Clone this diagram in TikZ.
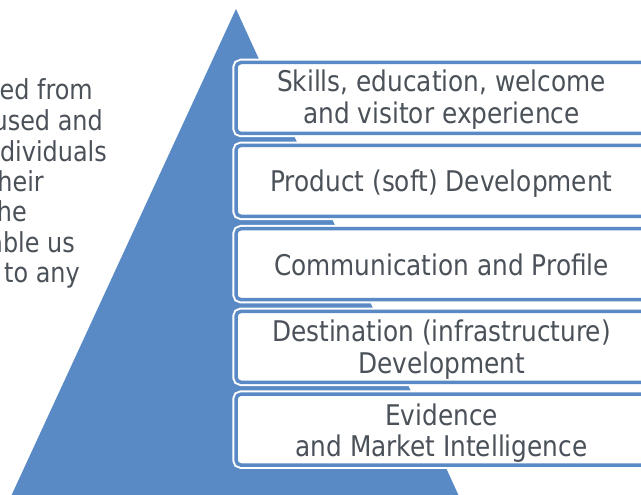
\documentclass[tikz,border=0pt]{standalone}
\usepackage{fontspec}
\setmainfont{DejaVu Sans}[FakeStretch=0.87]
\definecolor{pyr}{HTML}{5A8AC6}
\definecolor{txt}{HTML}{4B5159}
\begin{document}
\begin{tikzpicture}[x=1pt,y=-1pt,
  boxnode/.style={rectangle, rounded corners=5pt, minimum width=414pt, minimum height=71pt,
    inner sep=0pt, outer sep=0pt, fill=white, draw=pyr, line width=3.5pt,
    preaction={draw=white, line width=7.5pt}},
  lbl/.style={font=\fontsize{28.5}{31}\selectfont, text=txt, anchor=base, inner sep=0pt},
  side/.style={font=\fontsize{27.5}{30}\selectfont, text=txt, anchor=base east, inner sep=0pt}]
\useasboundingbox (0,0) rectangle (641,495);
\clip (0,0) rectangle (641,495);
% partially visible side text
\node[side] (s1) at (93,100) {ed from};
\node[side] (s2) at (103,130.5) {used and};
\node[side] (s3) at (107,161) {dividuals};
\node[side] (s4) at (44,191) {heir};
\node[side] (s5) at (27,221.5) {he};
\node[side] (s6) at (75,252) {able us};
\node[side] (s7) at (80,282) {to any};
% pyramid
\fill[pyr] (236,9) -- (7,505) -- (463,505) -- cycle;
% boxes
\node[boxnode] (b1) at (443,98) {};
\node[boxnode] (b2) at (443,180.8) {};
\node[boxnode] (b3) at (443,264.2) {};
\node[boxnode] (b4) at (443,346.8) {};
\node[boxnode] (b5) at (443,429.6) {};
% labels
\node[lbl] (t1a) at (441.5,91.7) {Skills, education, welcome};
\node[lbl] (t1b) at (441.5,123.3) {and visitor experience};
\node[lbl] (t2) at (441.5,191.7) {Product (soft) Development};
\node[lbl] (t3) at (441.5,275) {Communication and Profile};
\node[lbl] (t4a) at (441.5,341.7) {Destination (infrastructure)};
\node[lbl] (t4b) at (441.5,373.3) {Development};
\node[lbl] (t5a) at (441.5,425) {Evidence};
\node[lbl] (t5b) at (441.5,456.7) {and Market Intelligence};
\end{tikzpicture}
\end{document}
